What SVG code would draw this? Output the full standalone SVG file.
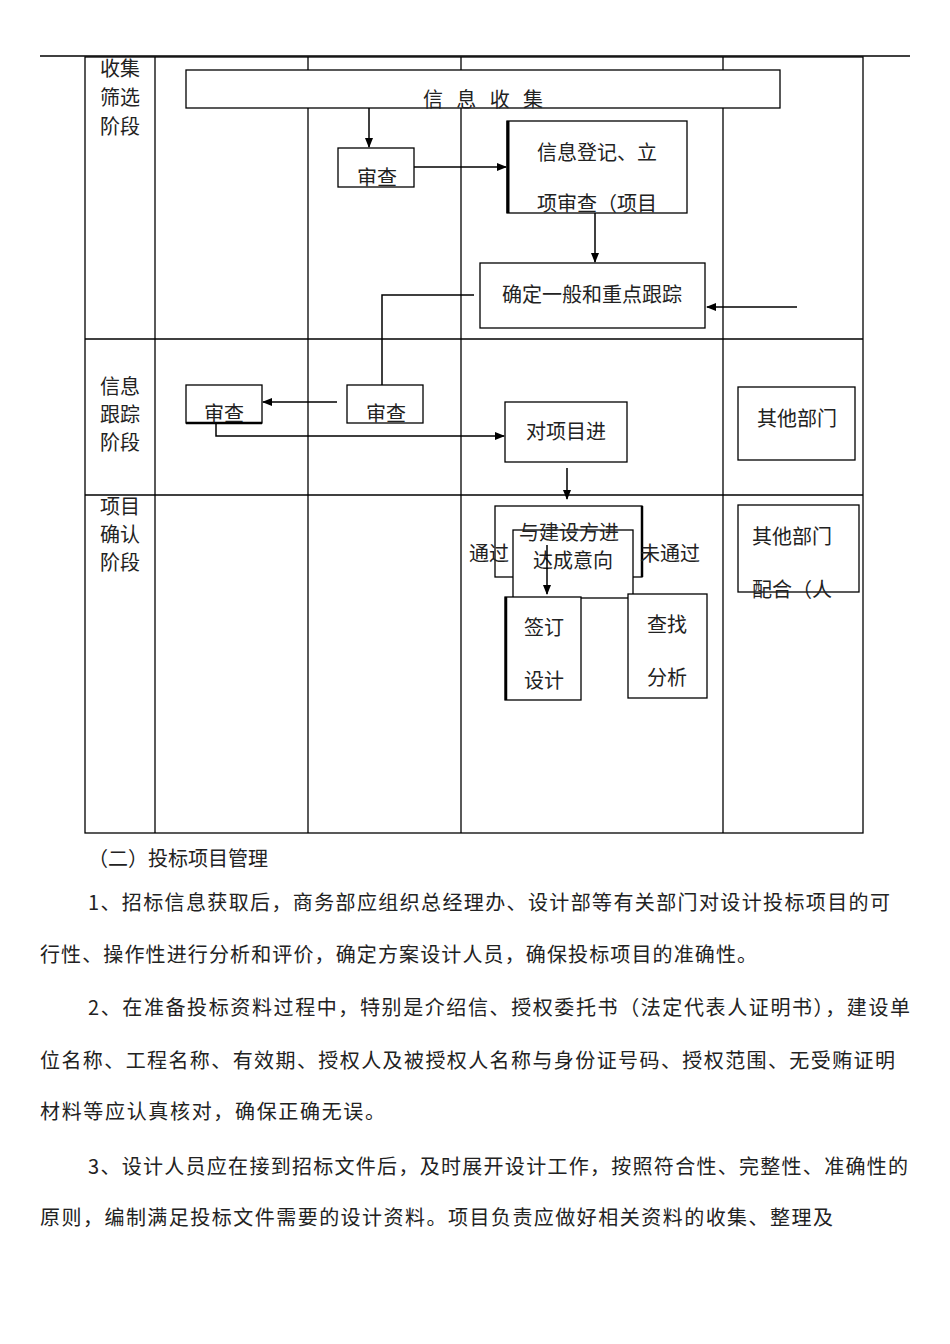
<svg xmlns="http://www.w3.org/2000/svg" width="950" height="1344" viewBox="0 0 950 1344">
<defs>
<marker id="ah" markerWidth="10" markerHeight="10" refX="9" refY="5" orient="auto" markerUnits="userSpaceOnUse"><path d="M0,1 L10,5 L0,9 Z" fill="#000"/></marker>
<style>
.b{fill:#fff;stroke:#000;stroke-width:1.3}
.l{fill:none;stroke:#000;stroke-width:1.3}
.c{stroke:#000;stroke-width:1.5;fill:none}
text{font-family:"Noto Sans CJK SC","Liberation Serif",serif;font-size:20px;fill:#222}
.m{text-anchor:middle}
</style>
</defs>
<rect width="950" height="1344" fill="#fff"/>
<g id="table" class="l">
<line x1="40" y1="56" x2="910" y2="56"/>
<rect x="85" y="57" width="778" height="776"/>
<line x1="155" y1="57" x2="155" y2="833"/>
<line x1="308" y1="57" x2="308" y2="833"/>
<line x1="461" y1="57" x2="461" y2="833"/>
<line x1="723" y1="57" x2="723" y2="833"/>
<line x1="85" y1="339" x2="863" y2="339"/>
<line x1="85" y1="495" x2="863" y2="495"/>
</g>
<g id="lanes" class="m">
<text x="120" y="76">收集</text><text x="120" y="105">筛选</text><text x="120" y="134">阶段</text>
<text x="120" y="394">信息</text><text x="120" y="422">跟踪</text><text x="120" y="450">阶段</text>
<text x="120" y="514">项目</text><text x="120" y="542">确认</text><text x="120" y="570">阶段</text>
</g>
<g id="n1"><rect class="b" x="186" y="70" width="594" height="38"/><text x="423" y="107" textLength="120" lengthAdjust="spacing">信息收集</text></g>
<g id="n2"><rect class="b" x="338" y="148" width="76" height="39"/><text class="m" x="377" y="185">审查</text></g>
<g id="n3"><rect class="b" x="507" y="121" width="180" height="92"/><line x1="508" y1="121" x2="508" y2="213" stroke="#000" stroke-width="3"/><text class="m" x="597" y="160">信息登记、立</text><text class="m" x="597" y="211">项审查（项目</text></g>
<g id="n4"><rect class="b" x="480" y="263" width="225" height="65"/><text class="m" x="592" y="302">确定一般和重点跟踪</text></g>
<g id="n5"><rect class="b" x="347" y="385" width="76" height="38"/><text class="m" x="386" y="421">审查</text></g>
<g id="n6"><rect class="b" x="186" y="385" width="76" height="38"/><line x1="186" y1="423" x2="262" y2="423" stroke="#000" stroke-width="2.5"/><text class="m" x="224" y="421">审查</text></g>
<g id="n7"><rect class="b" x="505" y="402" width="122" height="60"/><text class="m" x="566" y="439">对项目进</text></g>
<g id="n8"><rect class="b" x="495" y="506" width="147" height="71"/><line x1="642" y1="506" x2="642" y2="577" stroke="#000" stroke-width="2.5"/><rect class="b" x="513" y="530" width="120" height="68"/><text class="m" x="569" y="540">与建设方进</text><text class="m" x="573" y="568">达成意向</text></g>
<g id="n9"><text x="469" y="561">通过</text><text x="640" y="561">未通过</text></g>
<g id="n10"><rect class="b" x="505" y="597" width="76" height="103"/><line x1="506" y1="597" x2="506" y2="700" stroke="#000" stroke-width="2.5"/><text class="m" x="544" y="635">签订</text><text class="m" x="544" y="688">设计</text></g>
<g id="n11"><rect class="b" x="628" y="594" width="79" height="104"/><text class="m" x="667" y="632">查找</text><text class="m" x="667" y="685">分析</text></g>
<g id="n12"><rect class="b" x="738" y="387" width="117" height="73"/><text class="m" x="797" y="426">其他部门</text></g>
<g id="n13"><rect class="b" x="738" y="505" width="121" height="87"/><text x="752" y="544">其他部门</text><text x="752" y="597">配合（人</text></g>
<g id="connectors" class="c">
<line x1="369" y1="108" x2="369" y2="147" marker-end="url(#ah)"/>
<line x1="414" y1="167" x2="506" y2="167" marker-end="url(#ah)"/>
<line x1="595" y1="213" x2="595" y2="262" marker-end="url(#ah)"/>
<line x1="797" y1="307" x2="707" y2="307" marker-end="url(#ah)"/>
<polyline points="474,295 382,295 382,385"/>
<line x1="337" y1="402" x2="263" y2="402" marker-end="url(#ah)"/>
<polyline points="216,423 216,436 504,436" marker-end="url(#ah)"/>
<line x1="567" y1="468" x2="567" y2="499" marker-end="url(#ah)"/>
<line x1="547" y1="545" x2="547" y2="594" marker-end="url(#ah)"/>
</g>
<g id="body">
<text x="88" y="866">（二）投标项目管理</text>
<text x="88" y="910" textLength="802" lengthAdjust="spacing">1、招标信息获取后，商务部应组织总经理办、设计部等有关部门对设计投标项目的可</text>
<text x="40" y="962" textLength="717" lengthAdjust="spacing">行性、操作性进行分析和评价，确定方案设计人员，确保投标项目的准确性。</text>
<text x="88" y="1015" textLength="822" lengthAdjust="spacing">2、在准备投标资料过程中，特别是介绍信、授权委托书（法定代表人证明书），建设单</text>
<text x="40" y="1068" textLength="855" lengthAdjust="spacing">位名称、工程名称、有效期、授权人及被授权人名称与身份证号码、授权范围、无受贿证明</text>
<text x="40" y="1119" textLength="345" lengthAdjust="spacing">材料等应认真核对，确保正确无误。</text>
<text x="88" y="1174" textLength="820" lengthAdjust="spacing">3、设计人员应在接到招标文件后，及时展开设计工作，按照符合性、完整性、准确性的</text>
<text x="40" y="1225" textLength="793" lengthAdjust="spacing">原则，编制满足投标文件需要的设计资料。项目负责应做好相关资料的收集、整理及</text>
</g>
</svg>
